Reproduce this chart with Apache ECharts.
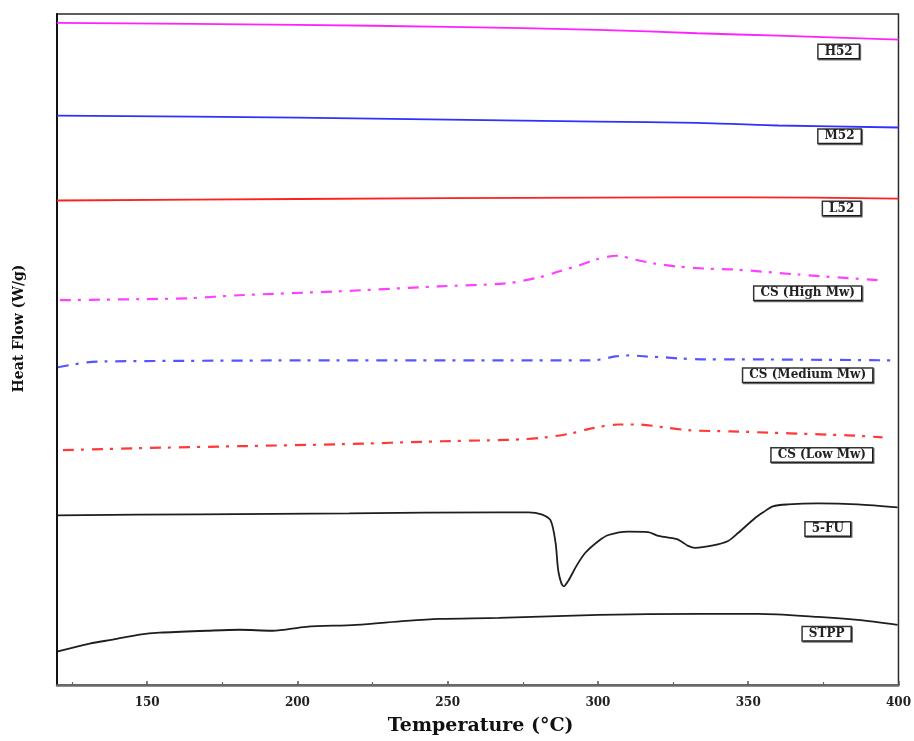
<!DOCTYPE html>
<html>
<head>
<meta charset="utf-8">
<title>DSC thermograms</title>
<script src="https://cdn.jsdelivr.net/npm/echarts@6/dist/echarts.min.js"></script>
<style>
  html, body { margin: 0; padding: 0; background: #fff; }
  #chart { width: 914px; height: 741px; }
</style>
</head>
<body>
<div id="chart"></div>
<script>
// DSC heat-flow curves (stacked with vertical offsets), temperature in °C
const majorTicks = [150, 200, 250, 300, 350, 400];
const minorTicks = [125, 175, 225, 275, 325, 375];

const h52 = [[120, 67.1], [200, 66.9], [250, 66.7], [300, 66.4], [333, 66.05], [360, 65.8], [400, 65.4]];
const m52 = [[120, 57.7], [200, 57.5], [250, 57.3], [300, 57.1], [333, 56.97], [360, 56.7], [400, 56.5]];
const l52 = [[120, 49.1], [200, 49.25], [300, 49.4], [350, 49.42], [400, 49.3]];

const csHigh = [[121, 39.0], [147.5, 39.1], [164.1, 39.2], [180.7, 39.5], [213.9, 39.9], [247.1, 40.4],
  [269.3, 40.7], [280.3, 41.3], [286.9, 41.9], [293.5, 42.5], [299.2, 43.1], [306.2, 43.5],
  [312.4, 43.1], [319.1, 42.7], [326.7, 42.4], [335.7, 42.2], [345.6, 42.1], [366.5, 41.6], [394.1, 41.0]];

const csMedium = [[120.3, 32.2], [130, 32.7], [136.6, 32.8], [213.9, 32.9], [296.8, 32.9], [301.2, 33.0],
  [305.8, 33.3], [310.8, 33.4], [315.8, 33.3], [322.4, 33.2], [326.7, 33.1], [335.7, 33.0],
  [344.3, 33.0], [398, 32.9]];

const csLow = [[122, 23.8], [147.5, 24.0], [180.7, 24.2], [213.9, 24.4], [248.1, 24.7], [263.7, 24.8],
  [274.6, 24.9], [282.6, 25.1], [291.2, 25.5], [297.8, 26.0], [306.8, 26.4], [313.4, 26.4],
  [322.4, 26.1], [331, 25.8], [344.3, 25.7], [383.1, 25.3], [394.7, 25.1]];

const fu5 = [[120, 17.2], [167.4, 17.3], [217.2, 17.4], [267, 17.5], [276.9, 17.5], [281.2, 17.3],
  [284.2, 16.7], [285.9, 14.4], [286.9, 11.4], [288.6, 10.0], [290.2, 10.6], [292.9, 12.1],
  [295.8, 13.4], [300.2, 14.6], [303.5, 15.2], [310.1, 15.55], [316.7, 15.5], [320.1, 15.1],
  [326, 14.8], [328, 14.5], [330, 14.1], [332.3, 13.9], [338.3, 14.15], [343.3, 14.6],
  [346.6, 15.4], [352.2, 16.9], [355, 17.5], [358.2, 18.1], [363.2, 18.3], [373.2, 18.4],
  [386.4, 18.3], [399.7, 18.0]];

const stpp = [[120.3, 3.4], [130.9, 4.2], [138.6, 4.6], [147.5, 5.1], [154.2, 5.3], [169.8, 5.5],
  [180.7, 5.6], [191.7, 5.5], [202.9, 5.9], [219.5, 6.1], [236.1, 6.5], [247.1, 6.7], [267, 6.8],
  [300.2, 7.1], [333.3, 7.2], [353.2, 7.2], [373.2, 6.9], [386.4, 6.6], [399.7, 6.1]];

const seriesNames = ['H52', 'M52', 'L52', 'CS (High Mw)', 'CS (Medium Mw)', 'CS (Low Mw)', '5-FU', 'STPP'];
const seriesData = [h52, m52, l52, csHigh, csMedium, csLow, fu5, stpp];
const seriesColors = ['#ff22ff', '#3030ff', '#ff2020', '#ff40ff', '#5555ff', '#ff3838', '#1e1e1e', '#1e1e1e'];
const dashDot = [11, 7, 3, 8];
const seriesDash = ['solid', 'solid', 'solid', dashDot, dashDot, dashDot, 'solid', 'solid'];
// where each curve's name tag sits (temperature, heat flow)
const tagAnchors = [[380.1, 64.2], [380.4, 55.6], [381.1, 48.3], [369.8, 39.7],
  [369.8, 31.4], [374.5, 23.3], [376.5, 15.8], [376.1, 5.2]];

const serif = '"DejaVu Serif", "Liberation Serif", serif';

const chart = echarts.init(document.getElementById('chart'), null, { renderer: 'canvas' });

const series = seriesNames.map((name, i) => ({
  name: name,
  type: 'line',
  data: seriesData[i],
  showSymbol: false,
  smooth: 0.3,
  silent: true,
  lineStyle: {
    color: seriesColors[i],
    width: i >= 3 && i <= 5 ? 2.2 : 1.8,
    type: seriesDash[i]
  },
  markPoint: {
    silent: true,
    symbol: 'rect',
    symbolSize: 0,
    label: {
      show: true,
      position: 'inside',
      formatter: name,
      fontFamily: serif,
      fontWeight: 'bold',
      fontSize: 12,
      lineHeight: 11,
      color: '#222',
      backgroundColor: '#fff',
      borderColor: '#333',
      borderWidth: 1.5,
      padding: [1, 6],
      shadowColor: 'rgba(0,0,0,0.55)',
      shadowOffsetX: 1,
      shadowOffsetY: 1,
      shadowBlur: 0
    },
    data: [{ coord: tagAnchors[i] }]
  }
}));

chart.setOption({
  animation: false,
  backgroundColor: '#fff',
  grid: {
    left: 57, right: 10, top: 14, bottom: 42,
    show: true, borderColor: '#2a2a2a', borderWidth: 1.5,
    containLabel: false
  },
  xAxis: [{
    type: 'value',
    min: 120, max: 400,
    name: 'Temperature (°C)',
    nameLocation: 'middle',
    nameGap: 32,
    nameTextStyle: { fontFamily: serif, fontWeight: 'bold', fontSize: 19, color: '#111', padding: [0, 0, 0, 6] },
    axisLine: { show: true, lineStyle: { color: '#6a6a6a', width: 2.5 } },
    axisTick: { show: true, inside: true, length: 4, customValues: majorTicks, lineStyle: { color: '#555', width: 1.5 } },
    axisLabel: { show: true, customValues: majorTicks, margin: 12, fontFamily: serif, fontWeight: 'bold', fontSize: 12, color: '#222' },
    splitLine: { show: false }
  }, {
    type: 'value',
    min: 120, max: 400,
    position: 'bottom',
    axisLine: { show: false },
    axisTick: { show: true, inside: true, length: 3, customValues: minorTicks, lineStyle: { color: '#666', width: 1.2 } },
    axisLabel: { show: false },
    splitLine: { show: false }
  }],
  yAxis: {
    type: 'value',
    min: 0, max: 68,
    name: 'Heat Flow (W/g)',
    nameLocation: 'middle',
    nameGap: 31,
    nameTextStyle: { fontFamily: serif, fontWeight: 'bold', fontSize: 14, color: '#111', padding: [0, 0, 0, 42] },
    axisLine: { show: true, lineStyle: { color: '#111', width: 2 } },
    axisTick: { show: false },
    axisLabel: { show: false },
    splitLine: { show: false }
  },
  series: series
});
</script>
</body>
</html>
